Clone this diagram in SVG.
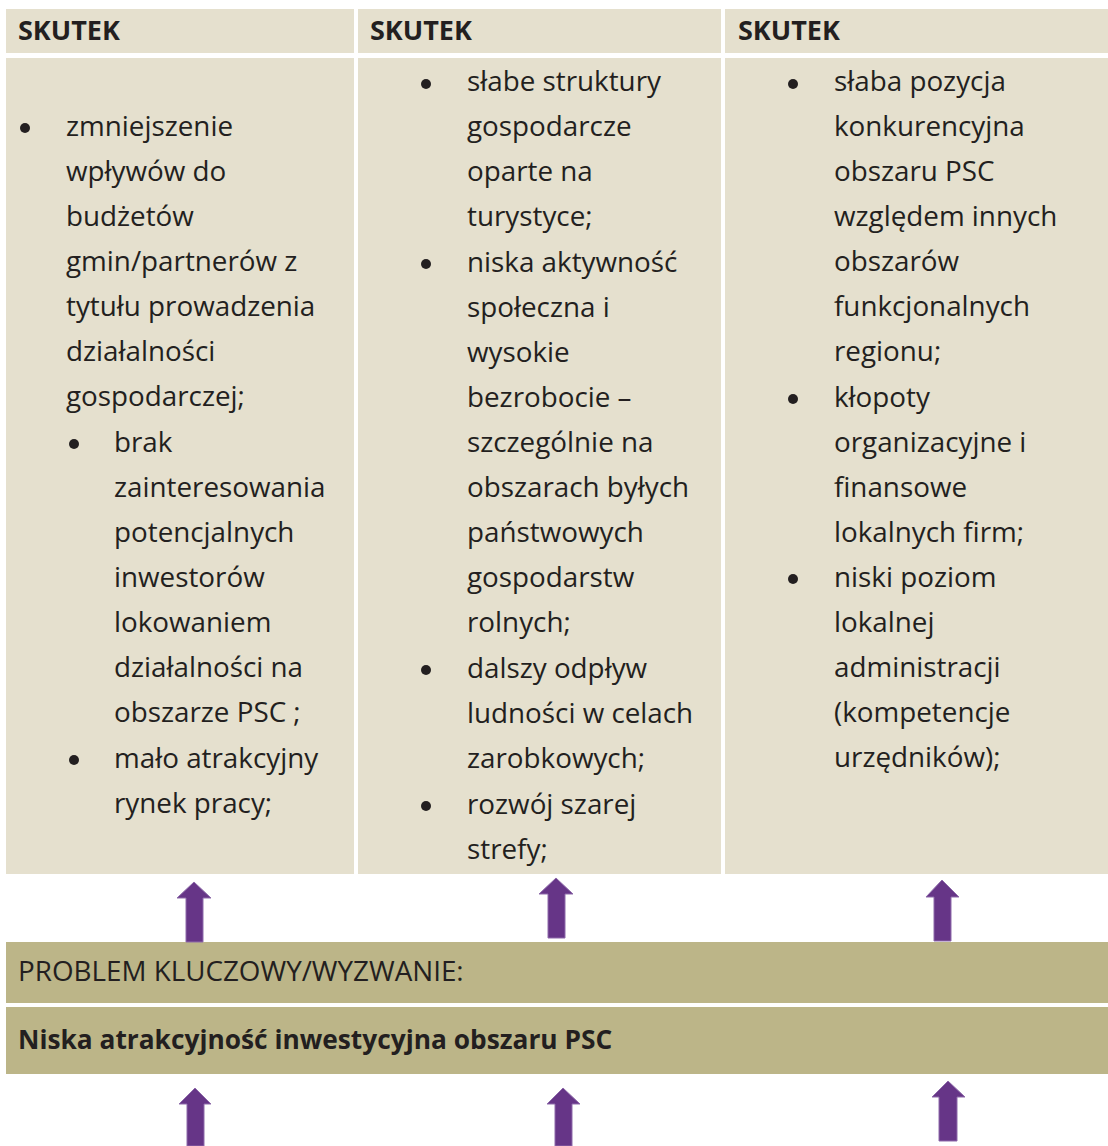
<svg xmlns="http://www.w3.org/2000/svg" width="1108" height="1146" viewBox="0 0 1108 1146">
<style>
.cell{fill:#E5E0CE}
.band{fill:#BCB588}
.t{font-family:"Open Sans","Liberation Sans",sans-serif;font-size:27.8px;fill:#231F20}
.h{font-family:"Open Sans","Liberation Sans",sans-serif;font-size:27px;font-weight:bold;fill:#231F20}
.p{font-size:26.3px}
.b{fill:#231F20}
.arr{fill:#663587;stroke:#8E6BAA;stroke-width:1}
</style>
<rect width="1108" height="1146" fill="#FFFFFF"/>
<g id="col1">
<rect class="cell" x="6" y="9" width="348" height="44"/>
<rect class="cell" x="6" y="58" width="348" height="816"/>
<text class="h" x="18" y="40">SKUTEK</text>
<circle class="b" cx="25" cy="128" r="5"/>
<text class="t" x="66"><tspan x="66" y="136">zmniejszenie</tspan><tspan x="66" y="181">wpływów do</tspan><tspan x="66" y="226">budżetów</tspan><tspan x="66" y="271">gmin/partnerów z</tspan><tspan x="66" y="316">tytułu prowadzenia</tspan><tspan x="66" y="361">działalności</tspan><tspan x="66" y="406">gospodarczej;</tspan></text>
<circle class="b" cx="74" cy="444" r="5"/>
<text class="t"><tspan x="114" y="452">brak</tspan><tspan x="114" y="497">zainteresowania</tspan><tspan x="114" y="542">potencjalnych</tspan><tspan x="114" y="587">inwestorów</tspan><tspan x="114" y="632">lokowaniem</tspan><tspan x="114" y="677">działalności na</tspan><tspan x="114" y="722">obszarze PSC ;</tspan></text>
<circle class="b" cx="74" cy="760" r="5"/>
<text class="t"><tspan x="114" y="768">mało atrakcyjny</tspan><tspan x="114" y="813">rynek pracy;</tspan></text>
</g>
<g id="col2">
<rect class="cell" x="358" y="9" width="363" height="44"/>
<rect class="cell" x="358" y="58" width="363" height="816"/>
<text class="h" x="370" y="40">SKUTEK</text>
<circle class="b" cx="426" cy="84" r="5"/>
<text class="t"><tspan x="467" y="91">słabe struktury</tspan><tspan x="467" y="136">gospodarcze</tspan><tspan x="467" y="181">oparte na</tspan><tspan x="467" y="226">turystyce;</tspan></text>
<circle class="b" cx="426" cy="264" r="5"/>
<text class="t"><tspan x="467" y="272">niska aktywność</tspan><tspan x="467" y="317">społeczna i</tspan><tspan x="467" y="362">wysokie</tspan><tspan x="467" y="407">bezrobocie –</tspan><tspan x="467" y="452">szczególnie na</tspan><tspan x="467" y="497">obszarach byłych</tspan><tspan x="467" y="542">państwowych</tspan><tspan x="467" y="587">gospodarstw</tspan><tspan x="467" y="632">rolnych;</tspan></text>
<circle class="b" cx="426" cy="670" r="5"/>
<text class="t"><tspan x="467" y="678">dalszy odpływ</tspan><tspan x="467" y="723">ludności w celach</tspan><tspan x="467" y="768">zarobkowych;</tspan></text>
<circle class="b" cx="426" cy="806" r="5"/>
<text class="t"><tspan x="467" y="814">rozwój szarej</tspan><tspan x="467" y="859">strefy;</tspan></text>
</g>
<g id="col3">
<rect class="cell" x="725" y="9" width="383" height="44"/>
<rect class="cell" x="725" y="58" width="383" height="816"/>
<text class="h" x="738" y="40">SKUTEK</text>
<circle class="b" cx="793" cy="84" r="5"/>
<text class="t"><tspan x="834" y="91">słaba pozycja</tspan><tspan x="834" y="136">konkurencyjna</tspan><tspan x="834" y="181">obszaru PSC</tspan><tspan x="834" y="226">względem innych</tspan><tspan x="834" y="271">obszarów</tspan><tspan x="834" y="316">funkcjonalnych</tspan><tspan x="834" y="361">regionu;</tspan></text>
<circle class="b" cx="793" cy="399" r="5"/>
<text class="t"><tspan x="834" y="407">kłopoty</tspan><tspan x="834" y="452">organizacyjne i</tspan><tspan x="834" y="497">finansowe</tspan><tspan x="834" y="542">lokalnych firm;</tspan></text>
<circle class="b" cx="793" cy="579" r="5"/>
<text class="t"><tspan x="834" y="587">niski poziom</tspan><tspan x="834" y="632">lokalnej</tspan><tspan x="834" y="677">administracji</tspan><tspan x="834" y="722">(kompetencje</tspan><tspan x="834" y="767">urzędników);</tspan></text>
</g>
<g id="problem-label">
<rect class="band" x="6" y="942" width="1102" height="61"/>
<text class="t" x="18" y="981">PROBLEM KLUCZOWY/WYZWANIE:</text>
</g>
<g id="problem">
<rect class="band" x="6" y="1007" width="1102" height="67"/>
<text class="h p" x="18" y="1049">Niska atrakcyjność inwestycyjna obszaru PSC</text>
</g>
<g id="connectors">
<polygon class="arr" points="194,882 211,898 203,898 203,942 186,942 186,898 177,898"/>
<polygon class="arr" points="556,878 573,894 565,894 565,938 548,938 548,894 539,894"/>
<polygon class="arr" points="942,880 959,897 951,897 951,941 934,941 934,897 926,897"/>
<polygon class="arr" points="195,1088 211,1104 204,1104 204,1146 187,1146 187,1104 179,1104"/>
<polygon class="arr" points="563,1088 580,1104 572,1104 572,1146 555,1146 555,1104 547,1104"/>
<polygon class="arr" points="948,1081 965,1097 957,1097 957,1141 939,1141 939,1097 932,1097"/>
</g>
</svg>
